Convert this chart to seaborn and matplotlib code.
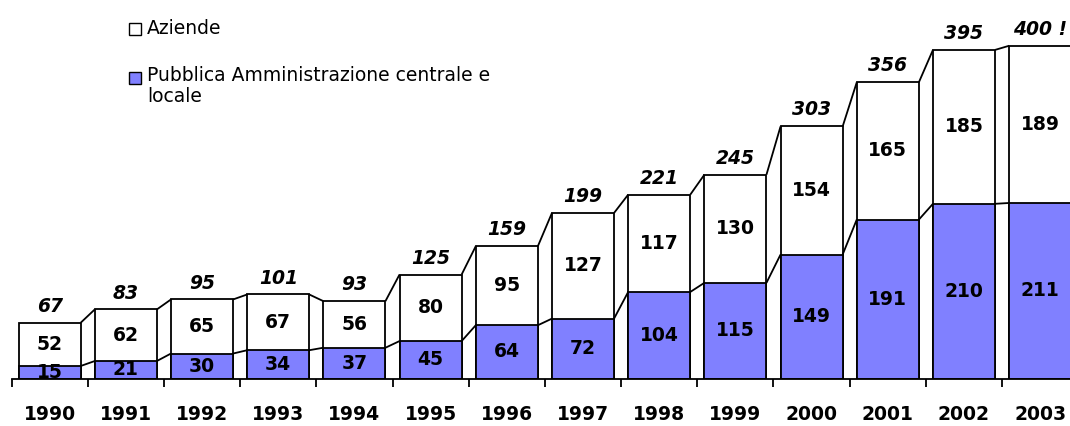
import matplotlib
matplotlib.use("Agg")
import matplotlib.pyplot as plt
import seaborn as sns
import numpy as np
import pandas as pd
from matplotlib.patches import Rectangle

years = ["1990", "1991", "1992", "1993", "1994", "1995", "1996",
         "1997", "1998", "1999", "2000", "2001", "2002", "2003"]
pubblica = [15, 21, 30, 34, 37, 45, 64, 72, 104, 115, 149, 191, 210, 211]
aziende = [52, 62, 65, 67, 56, 80, 95, 127, 117, 130, 154, 165, 185, 189]
total_labels = ["67", "83", "95", "101", "93", "125", "159", "199",
                "221", "245", "303", "356", "395", "400 !"]

legend_labels = ["Aziende", "Pubblica Amministrazione centrale e\nlocale"]
blue = "#8080FF"

sns.set_style("white")
plt.rcParams["font.family"] = ["DejaVu Sans"]
plt.rcParams["text.color"] = "black"
plt.rcParams["xtick.color"] = "black"

df = pd.DataFrame({"year": years, "pubblica": pubblica, "aziende": aziende})
df["totale"] = df["pubblica"] + df["aziende"]

W, H = 1070, 426
fig = plt.figure(figsize=(W / 100, H / 100), dpi=100)
step = 76.2
n = len(years)
ax = fig.add_axes([11.5 / W, (H - 378.5) / H, n * step / W, 378.5 / H])

lw = 1.3
bw = 0.815
sns.barplot(data=df, x="year", y="totale", color="white", edgecolor="black",
            linewidth=lw, width=bw, saturation=1, errorbar=None, ax=ax)
sns.barplot(data=df, x="year", y="pubblica", color=blue, edgecolor="black",
            linewidth=lw, width=bw, saturation=1, errorbar=None, ax=ax)

tot_bars = ax.patches[:n]
pa_bars = ax.patches[n:2 * n]
for bars in (tot_bars, pa_bars):
    for a, b in zip(bars[:-1], bars[1:]):
        ax.plot([a.get_x() + a.get_width(), b.get_x()],
                [a.get_height(), b.get_height()], color="black", lw=lw,
                solid_capstyle="butt", zorder=3)

fs = 13.5
ax.bar_label(ax.containers[0], labels=total_labels, padding=5,
             fontsize=fs, fontweight="bold", fontstyle="italic", color="black")
ax.bar_label(ax.containers[1], labels=[str(v) for v in pubblica],
             label_type="center", fontsize=fs, fontweight="bold", color="black")
for i, (p, a) in enumerate(zip(pubblica, aziende)):
    ax.text(i, p + a / 2, str(a), ha="center", va="center",
            fontsize=fs, fontweight="bold", color="black")

ax.set_xlim(-0.5, n - 0.5)
ax.set_ylim(0, 455)
ax.set_xlabel("")
ax.set_ylabel("")
ax.set_yticks([])
for s in ("left", "top", "right"):
    ax.spines[s].set_visible(False)
ax.spines["bottom"].set_color("black")
ax.spines["bottom"].set_linewidth(lw)
ax.set_xticks(range(n))
ax.set_xticklabels(years, fontsize=fs, fontweight="bold", color="black")
ax.set_xticks(np.arange(-0.5, n, 1), minor=True)
ax.tick_params(axis="x", which="major", length=0, pad=19, bottom=True)
ax.tick_params(axis="x", which="minor", length=6, width=lw,
               color="black", direction="out", bottom=True)

# legend
def fx(px):
    return px / W

def fy(py):
    return 1 - py / H

sq = 12
for (py, color) in [(29, "white"), (78, blue)]:
    fig.add_artist(Rectangle((fx(129), fy(py + sq / 2)), sq / W, sq / H,
                             transform=fig.transFigure, facecolor=color,
                             edgecolor="black", linewidth=1.0))
legend_fs = 13.5
fig.text(fx(147), fy(29), legend_labels[0], ha="left", va="center",
         fontsize=legend_fs, color="black")
fig.text(fx(147), fy(86), legend_labels[1], ha="left", va="center",
         fontsize=legend_fs, linespacing=1.15, color="black")

fig.savefig("out.png", dpi=100)
